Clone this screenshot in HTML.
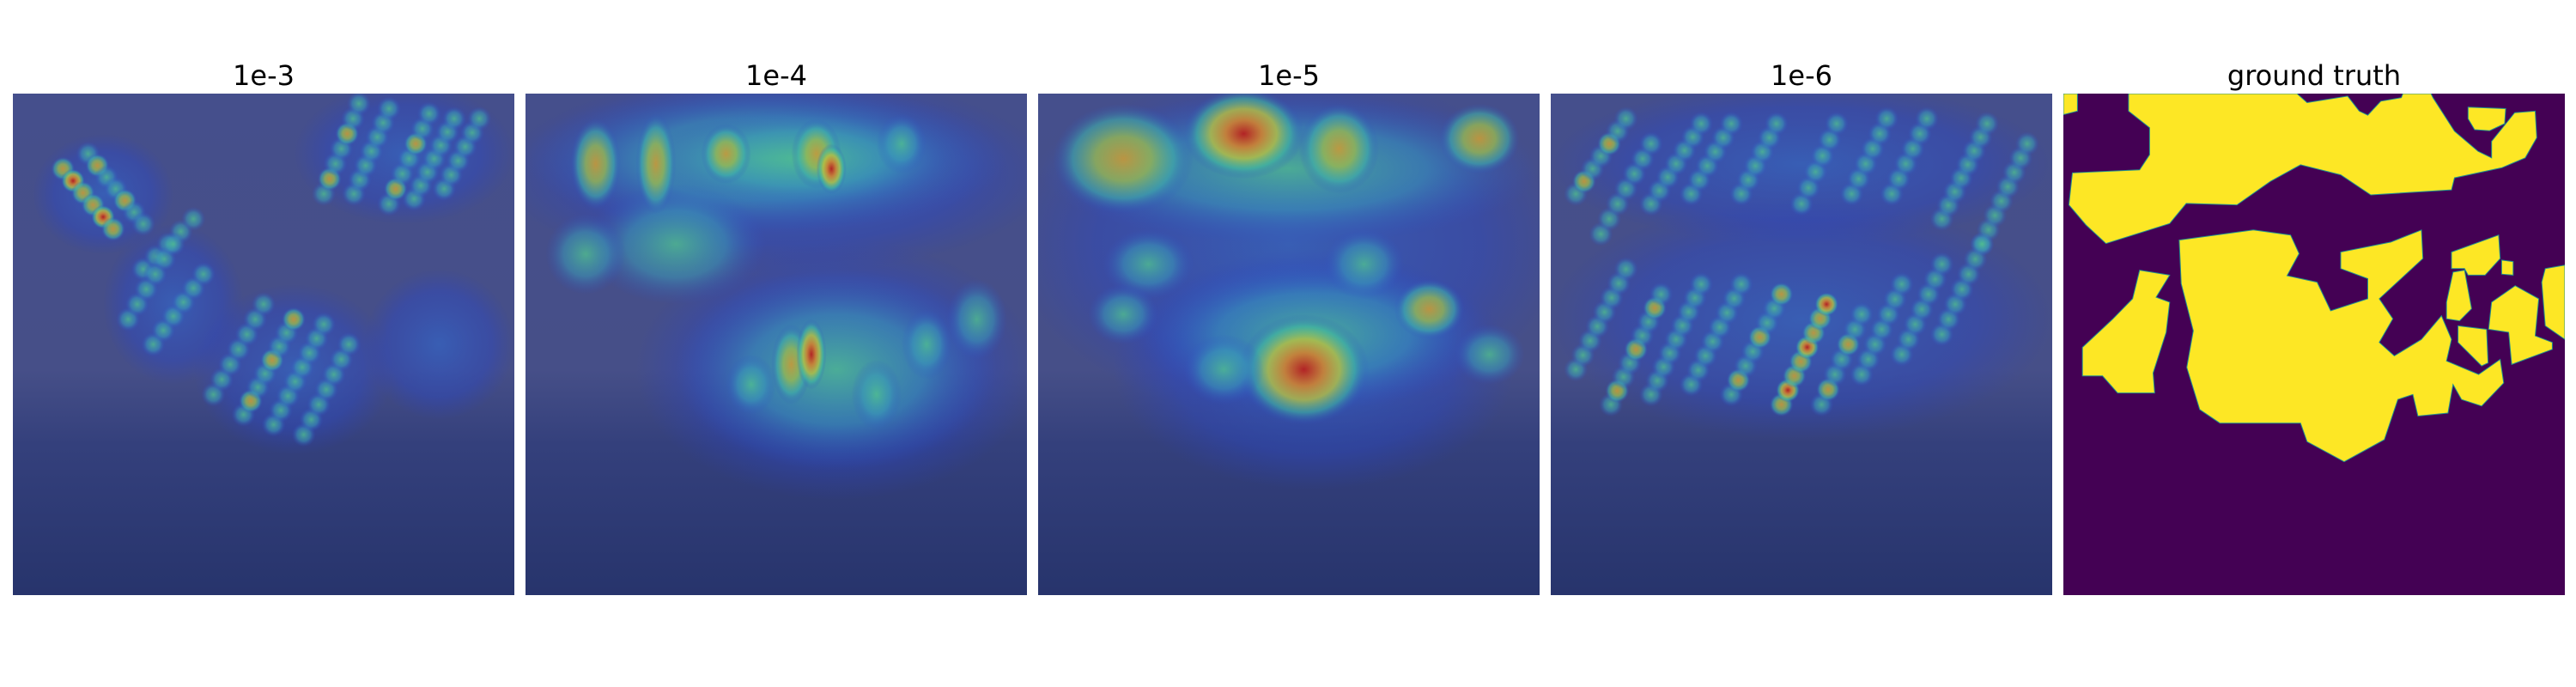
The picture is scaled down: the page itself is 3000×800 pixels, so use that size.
<!DOCTYPE html>
<html><head><meta charset="utf-8">
<style>
html,body{margin:0;padding:0;background:#fff;}
svg{display:block;font-family:"DejaVu Sans","Liberation Sans",sans-serif;}
</style></head>
<body>
<svg id="fig" width="3000" height="800" viewBox="0 0 3000 800" xmlns="http://www.w3.org/2000/svg">
<defs>
  <linearGradient id="sat" x1="0" y1="0" x2="0" y2="1">
    <stop offset="0" stop-color="#454f8c"/>
    <stop offset="0.55" stop-color="#464f88"/>
    <stop offset="0.7" stop-color="#34407c"/>
    <stop offset="1" stop-color="#27346c"/>
  </linearGradient>
  <radialGradient id="g-hot">
    <stop offset="0" stop-color="#b81e1e" stop-opacity="0.95"/>
    <stop offset="0.3" stop-color="#d08030" stop-opacity="0.9"/>
    <stop offset="0.55" stop-color="#b8c040" stop-opacity="0.8"/>
    <stop offset="0.78" stop-color="#40b8a0" stop-opacity="0.6"/>
    <stop offset="1" stop-color="#3050c0" stop-opacity="0"/>
  </radialGradient>
  <radialGradient id="g-warm">
    <stop offset="0" stop-color="#c89a38" stop-opacity="0.9"/>
    <stop offset="0.4" stop-color="#98b850" stop-opacity="0.8"/>
    <stop offset="0.72" stop-color="#40b0a8" stop-opacity="0.6"/>
    <stop offset="1" stop-color="#3050c0" stop-opacity="0"/>
  </radialGradient>
  <radialGradient id="g-cool">
    <stop offset="0" stop-color="#50c090" stop-opacity="0.8"/>
    <stop offset="0.55" stop-color="#3a9cb8" stop-opacity="0.55"/>
    <stop offset="1" stop-color="#3050c8" stop-opacity="0"/>
  </radialGradient>
  <radialGradient id="g-blue">
    <stop offset="0" stop-color="#3068d0" stop-opacity="0.6"/>
    <stop offset="0.7" stop-color="#2a48c8" stop-opacity="0.4"/>
    <stop offset="1" stop-color="#2a40c0" stop-opacity="0"/>
  </radialGradient>
</defs>
<g id="panels"></g>
</svg>
<script>
// panel layout
var panelLeft = 15, panelStep = 597, panelTop = 109, panelSize = 584;
var titles = ["1e-3", "1e-4", "1e-5", "1e-6", "ground truth"];

// heatmap blobs: [cx, cy, rx, ry, level] (fractions of panel; level 0 blue,1 cool,2 warm,3 hot)
var blobs1 = [[0.78,0.12,0.22,0.14,0],[0.18,0.2,0.14,0.12,0],[0.32,0.42,0.14,0.16,0],[0.56,0.55,0.2,0.17,0],[0.85,0.5,0.15,0.15,0]];
var stripes1 = [[0.62,0.2,0.69,0.02,2],[0.68,0.2,0.75,0.03,1],[0.75,0.22,0.83,0.04,2],[0.8,0.21,0.88,0.05,1],[0.86,0.19,0.93,0.05,1],
  [0.1,0.15,0.2,0.27,3],[0.15,0.12,0.26,0.26,2],[0.26,0.35,0.36,0.25,1],[0.23,0.45,0.32,0.3,1],[0.28,0.5,0.38,0.36,1],
  [0.4,0.6,0.5,0.42,1],[0.46,0.64,0.56,0.45,2],[0.52,0.66,0.62,0.46,1],[0.58,0.68,0.67,0.5,1]];
var blobs2 = [[0.5,0.16,0.55,0.2,0],[0.62,0.55,0.4,0.26,0],[0.48,0.13,0.48,0.15,1],[0.62,0.55,0.32,0.2,1],[0.3,0.3,0.18,0.12,1],[0.55,0.13,0.3,0.1,1],
  [0.14,0.14,0.05,0.09,2],[0.26,0.14,0.04,0.1,2],[0.4,0.12,0.05,0.06,2],[0.58,0.12,0.05,0.07,2],[0.61,0.15,0.03,0.05,3],[0.75,0.1,0.05,0.06,1],
  [0.53,0.54,0.04,0.08,2],[0.57,0.52,0.03,0.07,3],[0.45,0.58,0.05,0.06,1],[0.8,0.5,0.05,0.07,1],[0.7,0.6,0.05,0.07,1],[0.12,0.32,0.08,0.08,1],[0.9,0.45,0.06,0.08,1]];
var stripes2 = [];
var blobs3 = [[0.5,0.3,0.55,0.35,0],[0.55,0.55,0.4,0.24,0],[0.5,0.15,0.5,0.15,1],[0.55,0.48,0.35,0.15,1],[0.17,0.13,0.14,0.11,2],[0.41,0.08,0.12,0.09,3],[0.6,0.11,0.08,0.09,2],
  [0.88,0.09,0.08,0.07,2],[0.22,0.34,0.09,0.07,1],[0.17,0.44,0.07,0.06,1],[0.65,0.34,0.08,0.07,1],[0.78,0.43,0.07,0.06,2],
  [0.53,0.55,0.13,0.11,3],[0.9,0.52,0.07,0.06,1],[0.37,0.55,0.08,0.07,1]];
var blobs4 = [[0.5,0.14,0.5,0.16,0],[0.5,0.45,0.5,0.24,0]];
var stripes4 = [[0.05,0.2,0.15,0.05,2],[0.1,0.28,0.2,0.1,1],[0.2,0.22,0.3,0.06,1],[0.28,0.2,0.36,0.06,1],[0.38,0.2,0.45,0.06,1],
  [0.5,0.22,0.57,0.06,1],[0.6,0.2,0.67,0.05,1],[0.68,0.2,0.75,0.05,1],[0.78,0.25,0.87,0.06,1],[0.86,0.3,0.95,0.1,1],
  [0.05,0.55,0.15,0.35,1],[0.12,0.62,0.22,0.4,2],[0.2,0.6,0.3,0.38,1],[0.28,0.58,0.38,0.38,1],[0.36,0.6,0.46,0.4,2],
  [0.46,0.62,0.55,0.42,3],[0.54,0.62,0.62,0.44,2],[0.62,0.56,0.7,0.38,1],[0.7,0.52,0.78,0.34,1],[0.78,0.48,0.86,0.3,1]];

// ground truth polygons (fractions)
var gtShapes = [
 [[0,0],[0.028,0],[0.028,0.035],[0,0.042]],
 [[0.13,0],[0.466,0],[0.486,0.018],[0.567,0.005],[0.59,0.035],[0.607,0.043],[0.633,0.015],[0.674,0.008],[0.677,0],[0.733,0],[0.737,0.008],[0.78,0.075],[0.827,0.115],[0.854,0.128],[0.854,0.095],[0.9,0.038],[0.941,0.035],[0.944,0.088],[0.921,0.128],[0.874,0.148],[0.78,0.168],[0.774,0.192],[0.613,0.202],[0.553,0.162],[0.473,0.142],[0.413,0.175],[0.346,0.222],[0.245,0.219],[0.212,0.259],[0.085,0.299],[0.045,0.262],[0.011,0.222],[0.018,0.158],[0.152,0.152],[0.172,0.122],[0.172,0.068],[0.13,0.035]],
 [[0.807,0.027],[0.882,0.03],[0.88,0.06],[0.85,0.074],[0.82,0.072],[0.807,0.05]],
 [[0.231,0.292],[0.379,0.272],[0.453,0.282],[0.47,0.319],[0.446,0.363],[0.506,0.376],[0.533,0.433],[0.607,0.409],[0.607,0.369],[0.553,0.349],[0.553,0.316],[0.653,0.296],[0.714,0.272],[0.717,0.329],[0.68,0.363],[0.63,0.409],[0.657,0.449],[0.63,0.496],[0.66,0.523],[0.714,0.49],[0.754,0.443],[0.774,0.49],[0.764,0.533],[0.828,0.56],[0.871,0.53],[0.878,0.577],[0.834,0.623],[0.794,0.61],[0.777,0.58],[0.767,0.637],[0.707,0.643],[0.697,0.6],[0.667,0.61],[0.64,0.69],[0.56,0.734],[0.486,0.694],[0.473,0.657],[0.312,0.657],[0.272,0.63],[0.246,0.546],[0.259,0.473],[0.235,0.379]],
 [[0.152,0.352],[0.212,0.362],[0.185,0.406],[0.212,0.416],[0.205,0.476],[0.179,0.557],[0.182,0.597],[0.108,0.597],[0.078,0.563],[0.038,0.563],[0.038,0.506],[0.098,0.45],[0.138,0.409]],
 [[0.774,0.316],[0.868,0.282],[0.871,0.329],[0.841,0.362],[0.807,0.362],[0.8,0.349],[0.774,0.349]],
 [[0.874,0.332],[0.897,0.335],[0.897,0.362],[0.874,0.36]],
 [[0.777,0.356],[0.8,0.352],[0.814,0.429],[0.79,0.453],[0.764,0.449],[0.764,0.416]],
 [[0.787,0.463],[0.844,0.47],[0.847,0.537],[0.834,0.543],[0.787,0.496]],
 [[0.854,0.416],[0.901,0.383],[0.948,0.409],[0.941,0.483],[0.975,0.496],[0.975,0.51],[0.894,0.54],[0.888,0.476],[0.848,0.47]],
 [[0.961,0.349],[1,0.342],[1,0.49],[0.961,0.463],[0.954,0.376]]
];

var NS = "http://www.w3.org/2000/svg";
var root = document.getElementById("panels");
var grads = ["g-blue","g-cool","g-warm","g-hot"];
function mk(tag, attrs, parent){ var e=document.createElementNS(NS,tag); for(var k in attrs) e.setAttribute(k,attrs[k]); parent.appendChild(e); return e; }
function px(i,f){ return panelLeft + i*panelStep + f*panelSize; }
function py(f){ return panelTop + f*panelSize; }

var blobSets = [blobs1, blobs2, blobs3, blobs4];
var stripeSets = [stripes1, stripes2, [], stripes4];

for (var i=0;i<5;i++){
  var g = mk("g",{},root);
  
  
  var t = mk("text",{x:px(i,0.5), y:99, "text-anchor":"middle", "font-size":"32", fill:"#000"},g);
  t.textContent = titles[i];
  
  
  var cid = "clip"+i;
  var cp = mk("clipPath",{id:cid},g);
  mk("rect",{x:px(i,0),y:panelTop,width:panelSize,height:panelSize},cp);
  var img = mk("g",{"clip-path":"url(#"+cid+")"},g);
  
  
  if (i<4){
    var bg = mk("rect",{x:px(i,0),y:panelTop,width:panelSize,height:panelSize,fill:"url(#sat)"},img);
    
    
    var bl = blobSets[i];
    for (var b=0;b<bl.length;b++){
      var d = bl[b];
      var e = mk("ellipse",{cx:px(i,d[0]),cy:py(d[1]),rx:d[2]*panelSize,ry:d[3]*panelSize,fill:"url(#"+grads[d[4]]+")"},img);
      
      
    }
    var st = stripeSets[i];
    for (var s=0;s<st.length;s++){
      var q = st[s];
      var len = Math.hypot(q[2]-q[0], q[3]-q[1]);
      var n = Math.max(2, Math.round(len/0.032));
      for (var k=0;k<=n;k++){
        var f = k/n;
        var lv = (k%3===1) ? q[4] : Math.max(1,q[4]-1);
        var dot = mk("circle",{cx:px(i,q[0]+(q[2]-q[0])*f), cy:py(q[1]+(q[3]-q[1])*f), r:0.024*panelSize, fill:"url(#"+grads[lv]+")"},img);
        
        
      }
    }
  } else {
    var bg2 = mk("rect",{x:px(i,0),y:panelTop,width:panelSize,height:panelSize,fill:"#440154"},img);
    
    
    for (var m=0;m<gtShapes.length;m++){
      var pts = gtShapes[m].map(function(p){ return px(4,p[0]).toFixed(1)+","+py(p[1]).toFixed(1); }).join(" ");
      var pg = mk("polygon",{points:pts, fill:"#fde725", stroke:"#21918c", "stroke-width":"1"},img);
      
      
    }
  }
}
</script>
</body></html>
